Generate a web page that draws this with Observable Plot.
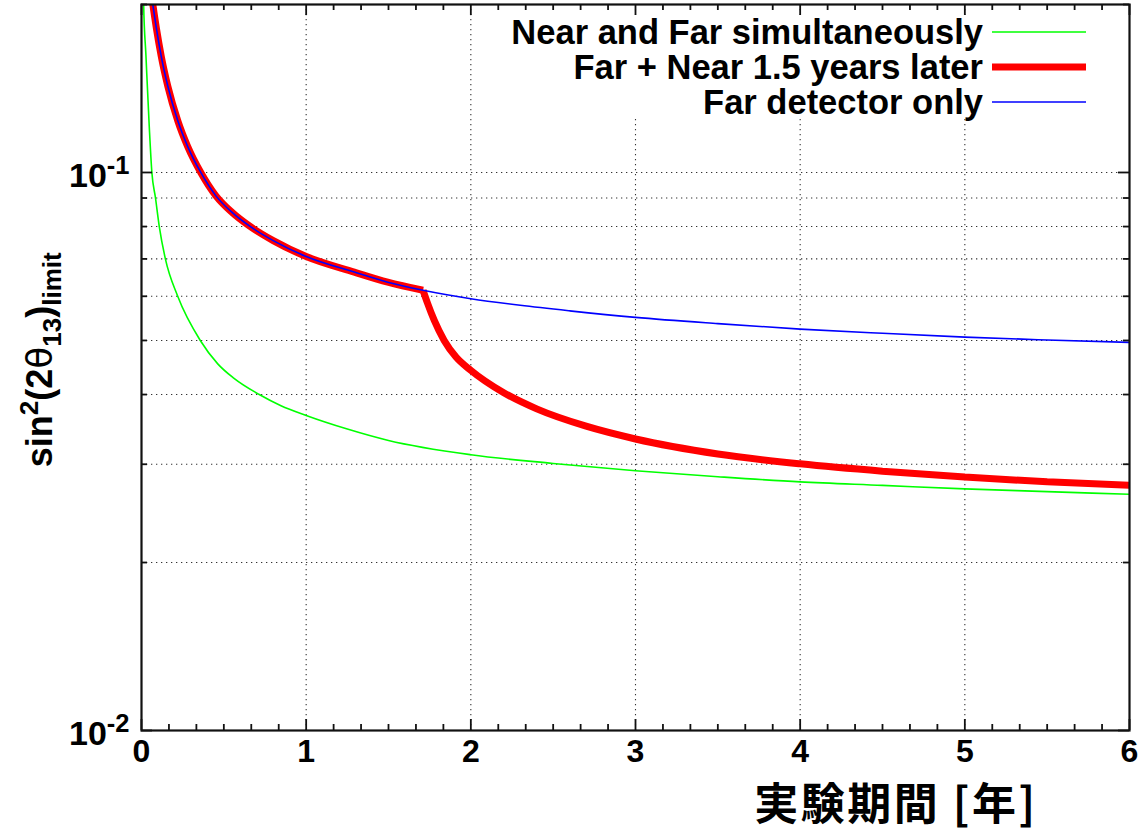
<!DOCTYPE html>
<html>
<head>
<meta charset="utf-8">
<script src="https://cdn.jsdelivr.net/npm/d3@7"></script>
<script src="https://cdn.jsdelivr.net/npm/@observablehq/plot@0.6"></script>
<style>
  html, body { margin: 0; padding: 0; background: #fff; }
  svg { display: block; }
</style>
</head>
<body>
<div id="chart"></div>
<script>
// ---------------- data ----------------
const seriesNames = ["Near and Far simultaneously", "Far + Near 1.5 years later", "Far detector only"];
const seriesColors = ["#00ff00", "#ff0000", "#0000ff"];
const seriesWidths = [1.6, 7, 1.6];

// Near and Far simultaneously (green)
const nearFarX = [0.008, 0.013, 0.027, 0.047, 0.063, 0.085, 0.108, 0.145, 0.22, 0.357, 0.463, 0.56, 0.715, 0.847, 1.0, 1.25, 1.5, 2.0, 2.5, 3.0, 3.5, 4.0, 4.5, 5.0, 5.5, 6.0];
const nearFarY = [0.25, 0.2, 0.162, 0.121, 0.1, 0.09, 0.08, 0.07, 0.06, 0.05, 0.0454, 0.0428, 0.04, 0.0382, 0.0367, 0.0347, 0.0331, 0.0312, 0.0301, 0.0292, 0.0285, 0.0279, 0.0275, 0.0271, 0.0268, 0.0265];

// Far + Near 1.5 years later (red): before and after the near detector starts
const lateNearX1 = [0.05, 0.06, 0.07, 0.09, 0.12, 0.16, 0.22, 0.28, 0.36, 0.452, 0.55, 0.655, 0.8, 1.0, 1.292, 1.495, 1.71];
const lateNearY1 = [0.2213, 0.2091, 0.1989, 0.1816, 0.1615, 0.1427, 0.1239, 0.1114, 0.1, 0.0908, 0.0848, 0.0802, 0.0755, 0.0707, 0.0663, 0.0636, 0.0615];
const lateNearX2 = [1.71, 1.738, 1.778, 1.838, 1.91, 2.0, 2.2, 2.4, 2.7, 3.0, 3.5, 4.0, 4.5, 5.0, 5.5, 6.0];
const lateNearY2 = [0.0615, 0.0582, 0.0543, 0.05, 0.0467, 0.0442, 0.0403, 0.0377, 0.0351, 0.0333, 0.0313, 0.03005, 0.02915, 0.02845, 0.0279, 0.0275];

// Far detector only (blue)
const farOnlyX = [0.05, 0.06, 0.07, 0.09, 0.12, 0.16, 0.22, 0.28, 0.36, 0.452, 0.55, 0.655, 0.8, 1.0, 1.292, 1.495, 1.71, 2.0, 2.3, 2.6, 3.0, 3.5, 4.0, 4.5, 5.0, 5.5, 6.0];
const farOnlyY = [0.2213, 0.2091, 0.1989, 0.1816, 0.1615, 0.1427, 0.1239, 0.1114, 0.1, 0.0908, 0.0848, 0.0802, 0.0755, 0.0707, 0.0663, 0.0636, 0.0615, 0.0594, 0.0578, 0.0565, 0.055, 0.0536, 0.0524, 0.0515, 0.0507, 0.0501, 0.0496];

// axes
const xDomain = [0, 6];
const yDomain = [0.01, 0.2];
const xTickValues = [0, 1, 2, 3, 4, 5, 6];
const xMinorPerMajor = 6;
const xGridValues = [1, 2, 3, 4, 5];
const yMajorValues = [0.01, 0.1];
const yMinorValues = [0.02, 0.03, 0.04, 0.05, 0.06, 0.07, 0.08, 0.09, 0.2];
const yGridValues = [0.02, 0.03, 0.04, 0.05, 0.06, 0.07, 0.08, 0.09, 0.1];
const xLabel = "実験期間 [年]";
const yLabelParts = [
  {t: "sin", k: "n"}, {t: "2", k: "sup"}, {t: "(2", k: "n"}, {t: "θ", k: "sym"},
  {t: "13", k: "sub"}, {t: ")", k: "n"}, {t: "limit", k: "sub"}
];

// ---------------- layout ----------------
const W = 1142, H = 833;
const mL = 141, mR = 13, mT = 4, mB = 103;
const iw = W - mL - mR, ih = H - mT - mB;
const FONT = "'Liberation Sans', Arial, Helvetica, sans-serif";

const toRows = (xs, ys, z) => xs.map((x, i) => ({x, y: ys[i], z}));
const green = toRows(nearFarX, nearFarY, "g");
const red = toRows(lateNearX1, lateNearY1, "a").concat(toRows(lateNearX2, lateNearY2, "b"));
const blue = toRows(farOnlyX, farOnlyY, "f");

const xMinor = d3.range(0, xDomain[1] * xMinorPerMajor + 1).map(i => i / xMinorPerMajor)
  .filter(v => !xTickValues.includes(v));

const gridStyle = {stroke: "#333", strokeWidth: 1.1, strokeDasharray: "1.3,3.7"};
const tickStyle = {stroke: "#111", strokeWidth: 1.8};

const plot = Plot.plot({
  width: W, height: H,
  marginLeft: mL, marginRight: mR, marginTop: mT, marginBottom: mB,
  style: {fontFamily: FONT, fontWeight: "bold", background: "#fff", color: "#000"},
  x: {domain: xDomain},
  y: {type: "log", domain: yDomain},
  marks: [
    Plot.ruleY(yGridValues, {y: d => d, ...gridStyle}),
    Plot.ruleX(xGridValues, {x: d => d, ...gridStyle}),
    Plot.line(green, {x: "x", y: "y", z: "z", stroke: seriesColors[0], strokeWidth: seriesWidths[0], curve: "monotone-x", clip: true}),
    Plot.line(red, {x: "x", y: "y", z: "z", stroke: seriesColors[1], strokeWidth: seriesWidths[1], curve: "monotone-x", clip: true, strokeLinecap: "butt", strokeLinejoin: "miter"}),
    Plot.line(blue, {x: "x", y: "y", z: "z", stroke: seriesColors[2], strokeWidth: seriesWidths[2], curve: "monotone-x", clip: true}),
    // ticks (inward, mirrored)
    Plot.tickX(xTickValues, {x: d => d, insetTop: ih - 11, ...tickStyle}),
    Plot.tickX(xTickValues, {x: d => d, insetBottom: ih - 11, ...tickStyle}),
    Plot.tickX(xMinor, {x: d => d, insetTop: ih - 6, ...tickStyle}),
    Plot.tickX(xMinor, {x: d => d, insetBottom: ih - 6, ...tickStyle}),
    Plot.tickY(yMajorValues, {y: d => d, insetRight: iw - 11, ...tickStyle}),
    Plot.tickY(yMajorValues, {y: d => d, insetLeft: iw - 11, ...tickStyle}),
    Plot.tickY(yMinorValues, {y: d => d, insetRight: iw - 6, ...tickStyle}),
    Plot.tickY(yMinorValues, {y: d => d, insetLeft: iw - 6, ...tickStyle}),
    Plot.frame({stroke: "#111", strokeWidth: 2.2}),
    Plot.axisX({ticks: xTickValues, tickSize: 0, tickPadding: 9, fontSize: 32, fontWeight: "bold", label: null, tickFormat: d => String(d)}),
    Plot.axisY({ticks: yMajorValues, tickSize: 0, tickPadding: 12, fontSize: 34, fontWeight: "bold", label: null,
      tickFormat: d => "10|" + Math.round(Math.log10(d))})
  ]
});

document.getElementById("chart").appendChild(plot);
const svg = d3.select(plot);
svg.style("overflow", "visible");

// y tick labels with superscript exponents
svg.selectAll('g[aria-label="y-axis tick label"] text').each(function () {
  const s = this.textContent;
  if (!s.includes("|")) return;
  const [base, exp] = s.split("|");
  const t = d3.select(this);
  t.text(null);
  t.append("tspan").attr("dy", "0.1em").text(base);
  t.append("tspan").attr("dy", "-0.52em").attr("font-size", "0.75em").text(exp);
});

// y axis label
const yl = svg.append("text")
  .attr("transform", `translate(52, ${mT + ih * 0.49}) rotate(-90)`)
  .attr("text-anchor", "middle")
  .attr("font-family", FONT).attr("font-weight", "bold").attr("font-size", 36).attr("fill", "#000");
let shift = 0;
for (const p of yLabelParts) {
  const sp = yl.append("tspan").text(p.t);
  let target = 0;
  if (p.k === "sup") { sp.attr("font-size", 26); target = -14; }
  else if (p.k === "sub") { sp.attr("font-size", 26); target = 9; }
  else if (p.k === "sym") { sp.attr("font-weight", "normal").attr("font-family", "'DejaVu Sans', sans-serif"); }
  sp.attr("dy", target - shift);
  shift = target;
}

// x axis label
svg.append("text")
  .attr("x", 896).attr("y", mT + ih + 90)
  .attr("text-anchor", "middle")
  .attr("font-family", "'Noto Sans CJK JP', sans-serif").attr("font-weight", "bold")
  .attr("font-size", 44).attr("letter-spacing", 2.5).attr("fill", "#000")
  .text(xLabel);

// legend (opaque box in top-right of the plot)
const lg = svg.append("g");
lg.append("rect").attr("x", 500).attr("y", 15).attr("width", 600).attr("height", 104).attr("fill", "#fff");
const legendRowY = [32, 67, 102];
seriesNames.forEach((name, i) => {
  const y = legendRowY[i];
  lg.append("text").attr("x", 983).attr("y", y + 12)
    .attr("text-anchor", "end").attr("font-family", FONT).attr("font-weight", "bold")
    .attr("font-size", 34.5).attr("fill", "#000").text(name);
  lg.append("line").attr("x1", 992).attr("x2", 1086).attr("y1", y).attr("y2", y)
    .attr("stroke", seriesColors[i]).attr("stroke-width", seriesWidths[i]);
});
</script>
</body>
</html>
